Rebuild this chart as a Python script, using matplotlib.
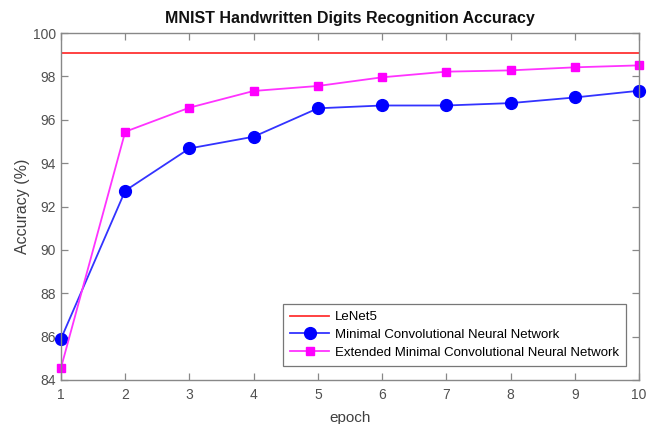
import matplotlib
matplotlib.use("Agg")
import matplotlib.pyplot as plt

epochs = [1, 2, 3, 4, 5, 6, 7, 8, 9, 10]
lenet5 = 99.06
minimal_cnn = [85.9, 92.73, 94.68, 95.22, 96.53, 96.66, 96.66, 96.77, 97.03, 97.34]
extended_cnn = [84.56, 95.45, 96.56, 97.33, 97.56, 97.96, 98.22, 98.28, 98.42, 98.51]
yticks = [84, 86, 88, 90, 92, 94, 96, 98, 100]

plt.rcParams['font.family'] = ['Liberation Sans', 'DejaVu Sans']

fig = plt.figure(figsize=(6.53, 4.24), dpi=100)
ax = fig.add_axes([0.0934, 0.1038, 0.8852, 0.8182])

ax.plot([epochs[0], epochs[-1]], [lenet5, lenet5], color='#ff3333', lw=1.3, label='LeNet5')
ax.plot(epochs, minimal_cnn, color='#3333ff', lw=1.3, marker='o', markersize=8.5,
        markerfacecolor='#0000ff', markeredgecolor='#0000ff', clip_on=False,
        label='Minimal Convolutional Neural Network')
ax.plot(epochs, extended_cnn, color='#ff33ff', lw=1.3, marker='s', markersize=6,
        markerfacecolor='#ff00ff', markeredgecolor='#ff00ff', clip_on=False,
        label='Extended Minimal Convolutional Neural Network')

ax.set_xlim(1, 10)
ax.set_ylim(84, 100)
ax.set_xticks(epochs)
ax.set_yticks(yticks)

for s in ax.spines.values():
    s.set_color('#888888')
    s.set_linewidth(1.0)
ax.tick_params(direction='in', top=True, right=True, length=5, width=0.9,
               colors='#888888', labelcolor='#505050', labelsize=10)
ax.tick_params(axis='x', pad=6)

ax.set_xlabel('epoch', fontsize=11, color='#404040', labelpad=6)
ax.set_ylabel('Accuracy (%)', fontsize=11.5, color='#404040', labelpad=2)
ax.set_title('MNIST Handwritten Digits Recognition Accuracy', fontsize=11.5,
             fontweight='bold', color='#111111', pad=7)

leg = ax.legend(loc='lower right', bbox_to_anchor=(0.9775, 0.040), fontsize=9.5,
                frameon=True, fancybox=False, edgecolor='#555555',
                borderpad=0.55, borderaxespad=0, labelspacing=0.42,
                handlelength=3.0, handletextpad=0.4)
leg.get_frame().set_linewidth(0.9)

fig.savefig('out.png', dpi=100)
